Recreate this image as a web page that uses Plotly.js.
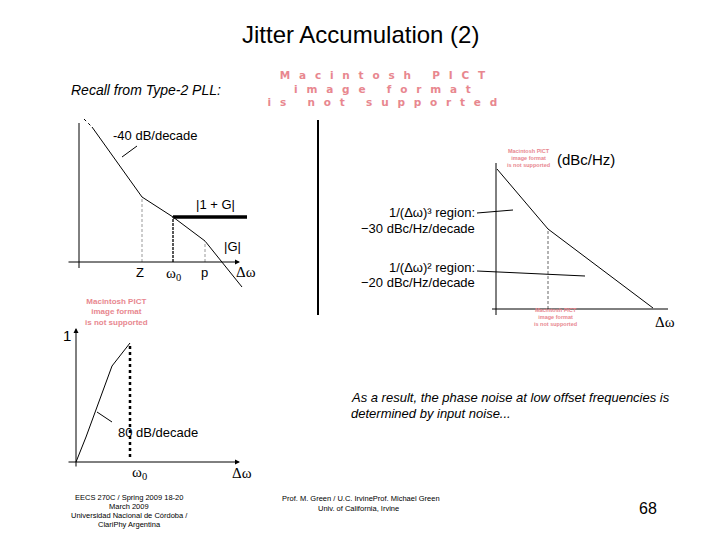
<!DOCTYPE html>
<html><head><meta charset="utf-8">
<script src="https://cdn.plot.ly/plotly-3.0.1.min.js"></script>
<style>body{margin:0;background:#fff}</style>
</head><body><div id="chart" style="width:720px;height:540px"></div>
<script>
// ---- Diagram 1: loop-gain Bode sketch (log-frequency units, dB units) ----
const gainX = [0.65, 3.15, 4.7, 6.3, 8.15];
const gainY = [6.75, 3.25, 2.25, 1.05, -1.25];
const onePlusGX = [4.7, 8.4];
const onePlusGY = [2.25, 2.25];
const cornerLabels = ['Z', 'ω<sub>0</sub>', 'p'];
const cornerX = [3.15, 4.7, 6.3];
const cornerY = [3.25, 2.25, 1.05];
// ---- Diagram 2: input-noise transfer (rises to 1 at ω0) ----
const tfX = [0, 0.5, 1.8, 2.7];
const tfY = [0, 1.25, 4.8, 5.95];
// ---- Diagram 3: VCO phase noise (dBc/Hz) ----
const pnX = [0.05, 2.6, 7.85];
const pnY = [7.0, 4.0, 0.05];
const regionLabels = ['1/(Δω)³ region:', '−30 dBc/Hz/decade', '1/(Δω)² region:', '−20 dBc/Hz/decade'];

const W = 720, H = 540;
const px = x => x / W, py = y => 1 - y / H;
const SANS = 'Liberation Sans, Arial, sans-serif';
const SERIF = 'Liberation Serif, Times New Roman, serif';
const PINK = '#e8878f';

function line(x, y, xa, ya, opt) {
  opt = opt || {};
  return {x: x, y: y, xaxis: xa, yaxis: ya, mode: 'lines', hoverinfo: 'skip',
    line: {color: opt.color || '#000', width: opt.width || 1, dash: opt.dash || 'solid'}};
}

const traces = [
  // diagram 1
  line(gainX, gainY, 'x', 'y'),
  line([0.25, gainX[0]], [7.15, gainY[0]], 'x', 'y', {dash: 'dot'}),
  line(onePlusGX, onePlusGY, 'x', 'y', {width: 3.5}),
  line([cornerX[0], cornerX[0]], [0, cornerY[0]], 'x', 'y', {color: '#999', dash: '3px,2px'}),
  line([cornerX[1], cornerX[1]], [0, cornerY[1]], 'x', 'y', {color: '#222', width: 1.5, dash: '3px,1px'}),
  line([cornerX[2], cornerX[2]], [0, cornerY[2]], 'x', 'y', {color: '#999', dash: '3px,2px'}),
  line([0, 0], [-0.3, 6.95], 'x', 'y'),
  line([2.15, 2.9], [5.25, 5.8], 'x', 'y'),
  // diagram 2
  line(tfX, tfY, 'x2', 'y2'),
  line([tfX[3], tfX[3]], [0.25, tfY[3]], 'x2', 'y2', {width: 2.5, dash: 'dot'}),
  line([1.05, 1.8], [2.5, 2.0], 'x2', 'y2'),
  // diagram 3
  line(pnX, pnY, 'x3', 'y3'),
  line([pnX[1], pnX[1]], [0, pnY[1]], 'x3', 'y3', {color: '#666', dash: '3px,2px'}),
  line([0, 0], [-0.3, 7.3], 'x3', 'y3'),
  line([-0.2, 8.6], [0, 0], 'x3', 'y3'),
  line([-0.95, 0.85], [4.8, 4.95], 'x3', 'y3'),
  line([-0.95, 4.45], [1.9, 1.65], 'x3', 'y3')
];

function ax(domPx, origin, vertical) {
  const a = {visible: false, fixedrange: true};
  if (vertical) {
    a.domain = [py(domPx[1]), py(domPx[0])];
    a.range = [(origin - domPx[1]) / 20, (origin - domPx[0]) / 20];
  } else {
    a.domain = [px(domPx[0]), px(domPx[1])];
    a.range = [(domPx[0] - origin) / 20, (domPx[1] - origin) / 20];
  }
  return a;
}

const ann = [];
function T(text, x, y, size, opt) {
  opt = opt || {};
  ann.push(Object.assign({text: text, x: x, y: y, xref: opt.xref || 'paper', yref: opt.yref || 'paper',
    showarrow: false, xanchor: opt.xanchor || 'center', yanchor: 'middle',
    font: {family: opt.family || SANS, size: size, color: opt.color || '#000', weight: opt.weight || 'normal'}}, opt.extra || {}));
  return ann.length - 1;
}
function arrow(xr, yr, x0, y0, x1, y1) {
  ann.push({text: '', xref: xr, yref: yr, axref: xr, ayref: yr, x: x1, y: y1, ax: x0, ay: y0,
    showarrow: true, arrowhead: 2, arrowsize: 1, arrowwidth: 1, arrowcolor: '#000', standoff: 0, startstandoff: 0});
}

// slide text
T('Jitter Accumulation (2)', px(360), py(34), 24);
T('<i>Recall from Type-2 PLL:</i>', px(146), py(90), 14);
const pictBig = T('Macintosh PICT<br>image format<br>is not supported', px(387), py(89), 10.5,
  {family: 'DejaVu Sans', color: PINK, weight: 'bold'});
T('Macintosh PICT<br>image format<br>is not supported', px(116), py(312), 8, {color: PINK, weight: 'bold'});
T('Macintosh PICT<br>image format<br>is not supported', px(528), py(158), 5.5, {color: PINK, weight: 'bold'});
T('Macintosh PICT<br>image format<br>is not supported', px(555), py(317), 5.5, {color: PINK, weight: 'bold'});

// diagram 1 labels
T('-40 dB/decade', 3.8, 6.35, 13, {xref: 'x', yref: 'y'});
T('|1 + G|', 6.8, 2.9, 13, {xref: 'x', yref: 'y'});
T('|G|', 7.65, 0.8, 13, {xref: 'x', yref: 'y'});
T(cornerLabels[0], cornerX[0] - 0.1, -0.5, 13, {xref: 'x', yref: 'y'});
T(cornerLabels[1], cornerX[1], -0.6, 15, {xref: 'x', yref: 'y', family: SERIF});
T(cornerLabels[2], cornerX[2] - 0.05, -0.5, 13, {xref: 'x', yref: 'y'});
T('Δω', 8.35, -0.5, 15, {xref: 'x', yref: 'y', family: SERIF});
arrow('x', 'y', -0.6, 0, 8.05, 0);

// diagram 2 labels
T('1', -0.45, 6.35, 15, {xref: 'x2', yref: 'y2'});
T('80 dB/decade', 4.1, 1.5, 13, {xref: 'x2', yref: 'y2'});
T('ω<sub>0</sub>', 3.15, -0.55, 15, {xref: 'x2', yref: 'y2', family: SERIF});
T('Δω', 8.3, -0.55, 15, {xref: 'x2', yref: 'y2', family: SERIF});
arrow('x2', 'y2', 0, -0.3, 0, 6.7);
arrow('x2', 'y2', -0.45, 0, 8.2, 0);

// diagram 3 labels
T('(dBc/Hz)', 4.5, 7.5, 15, {xref: 'x3', yref: 'y3'});
T('Δω', 8.45, -0.65, 15, {xref: 'x3', yref: 'y3', family: SERIF});
T(regionLabels[0], px(477), py(213), 13, {xanchor: 'right'});
T(regionLabels[1], px(477), py(228), 13, {xanchor: 'right'});
T(regionLabels[2], px(477), py(267), 13, {xanchor: 'right'});
T(regionLabels[3], px(477), py(282), 13, {xanchor: 'right'});
T('<i>As a result, the phase noise at low offset frequencies is</i>', px(349), py(397), 13, {xanchor: 'left'});
T('<i>determined by input noise...</i>', px(349), py(413), 13, {xanchor: 'left'});

// footer
T('EECS 270C / Spring 2009 18-20', px(129), py(497), 7.5);
T('March 2009', px(129), py(506), 7.5);
T('Universidad Nacional de Córdoba /', px(129), py(515), 7.5);
T('ClariPhy Argentina', px(129), py(524), 7.5);
T('Prof. M. Green / U.C. IrvineProf. Michael Green', px(361), py(498), 7.5);
T('Univ. of California, Irvine', px(358), py(508), 7.5);
T('68', px(648), py(508), 16);

// letter spacing for the wide placeholder text
const st = document.createElement('style');
st.textContent = 'g.annotation[data-index="' + pictBig + '"] text{letter-spacing:8.8px}';
document.head.appendChild(st);

const layout = {
  width: W, height: H, margin: {l: 0, r: 0, t: 0, b: 0},
  paper_bgcolor: '#fff', plot_bgcolor: 'rgba(0,0,0,0)', showlegend: false,
  xaxis: Object.assign(ax([60, 250], 79, false), {anchor: 'y'}),
  yaxis: Object.assign(ax([115, 295], 262, true), {anchor: 'x'}),
  xaxis2: Object.assign(ax([55, 255], 76, false), {anchor: 'y2'}),
  yaxis2: Object.assign(ax([320, 490], 462, true), {anchor: 'x2'}),
  xaxis3: Object.assign(ax([460, 700], 496, false), {anchor: 'y3'}),
  yaxis3: Object.assign(ax([140, 335], 309, true), {anchor: 'x3'}),
  shapes: [{type: 'line', xref: 'paper', yref: 'paper', x0: px(318), x1: px(318), y0: py(120), y1: py(315),
    line: {color: '#000', width: 2}}],
  annotations: ann
};
Plotly.newPlot('chart', traces, layout, {staticPlot: true, displayModeBar: false});
</script></body></html>
